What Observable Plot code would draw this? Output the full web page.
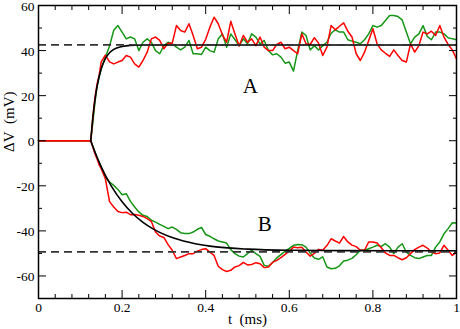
<!DOCTYPE html>
<html><head><meta charset="utf-8">
<script src="https://cdn.jsdelivr.net/npm/d3@7"></script>
<script src="https://cdn.jsdelivr.net/npm/@observablehq/plot@0.6"></script>
<style>
html,body{margin:0;padding:0;background:#fff}
#chart svg, #chart svg text { font-family: "Liberation Serif", "Times New Roman", serif !important; }
</style>
</head><body><div id="chart"></div>
<script>
// sample times (ms)
const time = [0, 0.125, 0.13, 0.135, 0.14, 0.145, 0.15,
  0.16, 0.17, 0.18, 0.19, 0.20, 0.21, 0.22, 0.23, 0.24, 0.25,
  0.26, 0.27, 0.28, 0.29, 0.30, 0.31, 0.32, 0.33, 0.34, 0.35,
  0.36, 0.37, 0.38, 0.39, 0.40, 0.41, 0.42, 0.43, 0.44, 0.45,
  0.46, 0.47, 0.48, 0.49, 0.50, 0.51, 0.52, 0.53, 0.54, 0.55,
  0.56, 0.57, 0.58, 0.59, 0.60, 0.61, 0.62, 0.63, 0.64, 0.65,
  0.66, 0.67, 0.68, 0.69, 0.70, 0.71, 0.72, 0.73, 0.74, 0.75,
  0.76, 0.77, 0.78, 0.79, 0.80, 0.81, 0.82, 0.83, 0.84, 0.85,
  0.86, 0.87, 0.88, 0.89, 0.90, 0.91, 0.92, 0.93, 0.94, 0.95,
  0.96, 0.97, 0.98, 0.99, 1.00];

// trace A (depolarising), red and green runs
const redA = [0, 0, 10, 19, 25, 29, 35,
  38, 35, 34.1, 34.9, 35.6, 37.8, 37.1, 34.1, 32.7, 35.6,
  39.3, 45.2, 46.0, 44.5, 40.8, 43.3, 43.3, 51.1, 48.9, 48.2,
  51.9, 46.7, 40.8, 41.5, 45.0, 50.4, 54.8, 51.9, 47.0, 43.7,
  53.0, 47.4, 42.0, 46.7, 43.7, 45.2, 42.2, 46.0, 41.5, 40.0,
  40.0, 42.7, 43.7, 40.8, 41.5, 40.0, 38.6, 47.4, 43.0, 42.7,
  45.7, 43.3, 37.8, 41.5, 51.1, 49.2, 50.8, 52.3, 48.6, 46.0,
  38.6, 35.6, 39.3, 44.5, 49.7, 43.0, 40.3, 38.8, 37.4, 40.3,
  37.8, 35.6, 34.9, 43.0, 39.3, 42.2, 48.2, 47.4, 48.6, 46.7,
  51.1, 46.0, 42.7, 40.3, 36.3];
const greenA = [0, 0, 8, 17, 24, 28, 32,
  37, 42, 49, 51.1, 48.2, 45.2, 46.0, 45.2, 40.0, 43.7,
  45.2, 43.7, 40.0, 38.6, 42.2, 43.7, 43.0, 41.5, 40.3, 41.5,
  44.5, 38.6, 38.6, 38.3, 41.5, 40.0, 39.3, 45.2, 47.4, 41.5,
  47.4, 44.8, 42.2, 45.2, 43.0, 47.4, 46.0, 43.0, 44.5, 40.0,
  38.1, 38.6, 37.1, 34.4, 34.9, 30.9, 40.0, 48.2, 46.7, 40.3,
  42.2, 40.3, 42.2, 43.7, 47.7, 49.2, 48.2, 48.2, 44.8, 44.2,
  43.7, 43.0, 44.8, 47.4, 51.1, 50.4, 51.1, 53.3, 55.6, 55.6,
  55.1, 53.6, 48.2, 43.0, 46.0, 47.4, 51.1, 46.3, 44.8, 48.2,
  48.2, 47.4, 45.7, 45.2, 44.8];

// trace B (hyperpolarising), red and green runs
const redB = [0, 0, -2.8, -5.8, -8.0, -10.7, -12.4,
  -16.9, -27.0, -29.4, -31.4, -31.9, -31.7, -32.8, -32.7, -33.1, -33.6,
  -34.6, -35.8, -40.5, -42.3, -42.9, -46.1, -48.6, -52.3, -51.6, -50.9,
  -50.1, -50.1, -49.0, -48.3, -47.9, -49.4, -50.9, -55.7, -57.2, -58.0,
  -57.5, -56.0, -55.4, -54.0, -55.1, -54.9, -54.1, -54.6, -56.3, -56.0,
  -54.0, -53.1, -51.9, -50.4, -49.0, -47.2, -47.5, -47.3, -49.4, -51.2,
  -50.0, -48.2, -48.6, -46.5, -43.5, -44.5, -45.4, -42.5, -44.9, -46.3,
  -47.0, -48.6, -48.6, -44.9, -44.9, -45.4, -47.5, -49.8, -50.9, -50.9,
  -51.9, -52.8, -51.9, -50.1, -48.3, -47.2, -46.4, -47.6, -49.4, -50.1,
  -49.8, -46.4, -48.6, -50.9, -49.4];
const greenB = [0, 0, -2.5, -5.0, -7.5, -9.6, -11.7,
  -16.1, -18.3, -19.8, -21.6, -24.0, -23.5, -26.9, -29.4, -31.6, -33.1,
  -33.6, -35.3, -36.1, -37.1, -38.0, -39.0, -38.3, -39.3, -40.8, -41.2,
  -41.2, -40.5, -39.3, -38.5, -41.6, -42.4, -43.5, -44.5, -44.9, -45.4,
  -48.3, -50.1, -51.2, -51.6, -50.1, -48.6, -50.1, -51.3, -55.3, -55.7,
  -54.0, -52.0, -50.5, -49.0, -47.8, -46.4, -46.0, -46.1, -47.2, -49.8,
  -52.0, -52.6, -51.5, -56.0, -56.8, -56.6, -55.5, -53.4, -53.0, -52.2,
  -50.6, -48.6, -48.6, -47.9, -47.2, -46.4, -46.9, -45.7, -47.2, -50.1,
  -47.2, -45.7, -49.4, -50.9, -51.9, -52.3, -51.6, -50.9, -50.9, -47.2,
  -44.9, -41.3, -39.0, -36.4, -36.5];

// fitted (black) curves
const fitTA = [0.125, 0.13, 0.135, 0.14, 0.15, 0.16, 0.17, 0.18, 0.2, 0.22, 0.25, 0.3, 0.4, 1.0];
const fitA  = [0, 10.3, 18.1, 24.0, 31.9, 36.4, 39.0, 40.5, 41.8, 42.3, 42.45, 42.5, 42.5, 42.5];
const fitTB = [0.125, 0.135, 0.15, 0.175, 0.2, 0.225, 0.25, 0.275, 0.325, 0.375, 0.425, 0.5, 0.6, 0.725, 1.0];
const fitB  = [0, -5.0, -11.6, -20.4, -27.1, -32.3, -36.2, -39.2, -43.3, -45.7, -47.1, -48.1, -48.6, -48.75, -48.8];

// steady-state levels (dashed)
const levels = [42.5, -49.3];

// ticks
const xTicks = [0, 0.2, 0.4, 0.6, 0.8, 1];
const xMinor = [0.04, 0.08, 0.12, 0.16, 0.24, 0.28, 0.32, 0.36, 0.44, 0.48, 0.52, 0.56, 0.64, 0.68, 0.72, 0.76, 0.84, 0.88, 0.92, 0.96];
const yTicks = [-60, -40, -20, 0, 20, 40, 60];
const yMinor = [-50, -30, -10, 10, 30, 50];

const rows = time.map((t, i) => ({t, redA: redA[i], greenA: greenA[i], redB: redB[i], greenB: greenB[i]}));
const fitRowsA = fitTA.map((t, i) => ({t, v: fitA[i]}));
const fitRowsB = fitTB.map((t, i) => ({t, v: fitB[i]}));

const RED = "#ff0000", GREEN = "#169616";
const fmt = d => String(d);
const SERIF = "Liberation Serif";

const chart = Plot.plot({
  width: 460, height: 329,
  marginLeft: 38, marginRight: 4, marginTop: 5, marginBottom: 31,
  x: {domain: [0, 1]},
  y: {domain: [-70, 60]},
  style: {fontFamily: SERIF, fontSize: "13.5px", background: "white", color: "black"},
  marks: [
    Plot.line(rows, {x: "t", y: "greenA", stroke: GREEN, strokeWidth: 1.5}),
    Plot.line(rows, {x: "t", y: "greenB", stroke: GREEN, strokeWidth: 1.5}),
    Plot.line(rows, {x: "t", y: "redA", stroke: RED, strokeWidth: 1.5}),
    Plot.line(rows, {x: "t", y: "redB", stroke: RED, strokeWidth: 1.5}),
    Plot.line(fitRowsA, {x: "t", y: "v", stroke: "black", strokeWidth: 1.6, curve: "monotone-x"}),
    Plot.line(fitRowsB, {x: "t", y: "v", stroke: "black", strokeWidth: 1.6, curve: "monotone-x"}),
    Plot.ruleY(levels, {stroke: "#333", strokeWidth: 1.7, strokeDasharray: "8,5"}),
    Plot.frame({stroke: "black", strokeWidth: 1.5}),
    Plot.axisX(xTicks, {anchor: "bottom", tickSize: 0, tickPadding: 4, tickFormat: fmt, fontFamily: SERIF, label: null}),
    Plot.axisX(xTicks, {anchor: "bottom", tickSize: -8, fill: "none"}),
    Plot.axisX(xMinor, {anchor: "bottom", tickSize: -4, fill: "none"}),
    Plot.axisX(xTicks, {anchor: "top", tickSize: -8, fill: "none"}),
    Plot.axisX(xMinor, {anchor: "top", tickSize: -4, fill: "none"}),
    Plot.axisY(yTicks, {anchor: "left", tickSize: 0, tickPadding: 4, tickFormat: fmt, fontFamily: SERIF, dy: 1.2, label: null}),
    Plot.axisY(yTicks, {anchor: "left", tickSize: -8, fill: "none"}),
    Plot.axisY(yMinor, {anchor: "left", tickSize: -4, fill: "none"}),
    Plot.axisY(yTicks, {anchor: "right", tickSize: -8, fill: "none"}),
    Plot.axisY(yMinor, {anchor: "right", tickSize: -4, fill: "none"}),
    Plot.text(["t\u00a0 (ms)"], {frameAnchor: "bottom", dy: 21, lineAnchor: "middle", text: d => d, fontSize: 15, fontFamily: SERIF}),
    Plot.text(["\u0394V\u00a0 (mV)"], {frameAnchor: "left", dx: -29, rotate: -90, lineAnchor: "middle", text: d => d, fontSize: 15, fontFamily: SERIF}),
    Plot.text(["A"], {x: 0.507, y: 24, text: d => d, fontSize: 21, fontFamily: SERIF}),
    Plot.text(["B"], {x: 0.541, y: -37, text: d => d, fontSize: 21, fontFamily: SERIF})
  ]
});
document.getElementById("chart").appendChild(chart);
</script>
</body></html>
